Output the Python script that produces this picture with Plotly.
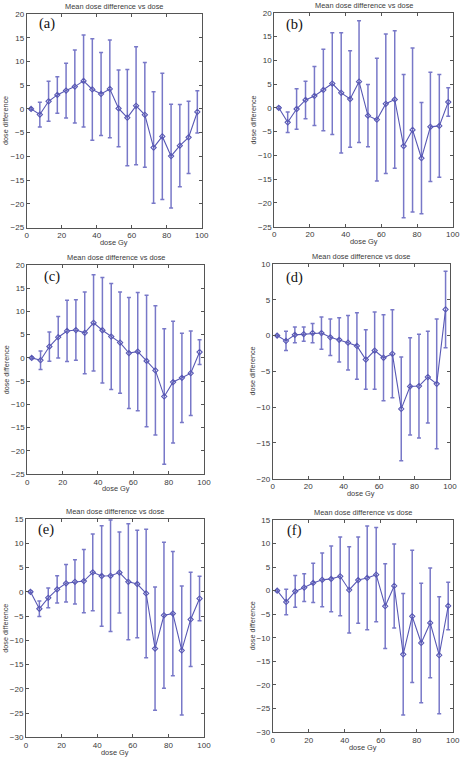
import plotly.graph_objects as go

dose = [2.5, 7.5, 12.5, 17.5, 22.5, 27.5, 32.5, 37.5, 42.5, 47.5,
        52.5, 57.5, 62.5, 67.5, 72.5, 77.5, 82.5, 87.5, 92.5, 97.5]

mean_a = [0, -1.2, 1.6, 2.95, 3.85, 4.7, 5.9, 4.1, 3.15, 4.2,
          0.1, -1.85, 0.65, -1.25, -8.15, -5.8, -9.95, -7.75, -6.0, -0.65]
err_a = [0.2, 2.6, 4.2, 3.85, 5.75, 7.7, 9.7, 10.7, 8.75, 10.3,
         8.1, 10.15, 12.45, 11.05, 11.75, 13.3, 10.95, 8.65, 7.6, 4.45]

mean_b = [0, -3.05, -0.25, 1.65, 2.5, 3.75, 5.1, 3.15, 1.85, 5.5,
          -1.65, -2.5, 0.85, 1.75, -8.05, -4.65, -10.6, -4.0, -3.8, 1.2]
err_b = [0.2, 2.15, 4.25, 3.95, 6.2, 8.55, 10.7, 12.65, 10.15, 12.8,
         6.55, 12.9, 14.65, 14.45, 15.05, 17.25, 11.7, 11.5, 10.8, 3.0]

mean_c = [0, -0.5, 2.45, 4.45, 5.8, 6.0, 5.4, 7.55, 5.95, 4.6,
          3.3, 1.05, 1.35, -0.65, -2.7, -8.3, -5.2, -4.3, -3.3, 1.25]
err_c = [0.2, 2.0, 3.15, 4.45, 6.6, 6.5, 8.8, 10.35, 11.35, 11.4,
         10.9, 11.95, 12.75, 14.15, 13.9, 14.6, 13.1, 9.6, 9.1, 2.65]

mean_d = [0, -0.75, 0.1, 0.2, 0.35, 0.35, -0.25, -0.6, -1.0, -1.45,
          -3.35, -2.1, -3.1, -2.55, -10.25, -7.1, -7.05, -5.8, -6.75, 3.65]
err_d = [0.1, 1.35, 1.1, 1.0, 1.35, 2.25, 2.55, 3.1, 3.8, 4.65,
         4.15, 5.4, 6.0, 6.15, 7.25, 6.8, 7.25, 6.4, 9.05, 5.35]

mean_e = [0, -3.5, -1.25, 0.5, 1.75, 2.05, 2.2, 4.0, 3.25, 3.3,
          3.95, 2.05, 1.6, -0.35, -11.7, -4.85, -4.5, -12.1, -5.7, -1.4]
err_e = [0.2, 1.6, 2.05, 2.8, 3.85, 4.55, 6.5, 7.9, 10.35, 11.5,
         8.35, 11.95, 11.1, 13.25, 12.7, 15.05, 12.8, 13.3, 9.7, 4.6]

mean_f = [0, -2.4, -0.15, 0.65, 1.65, 2.3, 2.5, 3.05, 0.15, 2.25,
          2.7, 3.4, -3.3, 1.0, -13.5, -5.45, -11.1, -6.85, -13.7, -3.25]
err_f = [0.2, 2.7, 3.35, 2.95, 4.15, 5.7, 7.0, 8.35, 9.15, 9.15,
         11.0, 10.0, 9.0, 8.9, 12.9, 14.05, 12.7, 11.65, 12.4, 5.05]

panel_labels = ["(a)", "(b)", "(c)", "(d)", "(e)", "(f)"]
means = [mean_a, mean_b, mean_c, mean_d, mean_e, mean_f]
errs = [err_a, err_b, err_c, err_d, err_e, err_f]
y_ranges = [[-25, 20], [-25, 20], [-25, 20], [-20, 10], [-30, 15], [-30, 15]]
x_ticks = [0, 20, 40, 60, 80, 100]
title_text = "Mean dose difference vs dose"
x_title = "dose Gy"
y_title = "dose difference"

W, H = 461, 760
# plot boxes in pixels: left, right, top, bottom
boxes = [
    (26.7, 201.7, 14.0, 227.5),
    (274.3, 452.7, 12.7, 226.7),
    (27.3, 204.0, 265.0, 474.0),
    (272.7, 450.0, 264.0, 478.7),
    (26.0, 204.0, 519.0, 737.3),
    (272.7, 452.7, 520.0, 732.0),
]
# panel label offsets from box top-left (px): left edge dx, centre dy
label_offsets = [(10, 9.5), (10, 12), (15, 11.5), (11.5, 13.5), (10, 10.5), (12.3, 10)]

line_col = "#5858b4"
err_col = "#7878c8"
axis_col = "#555555"
text_col = "#3a3a3a"

fig = go.Figure()
layout = dict(width=W, height=H, margin=dict(l=0, r=0, t=0, b=0, autoexpand=False),
              paper_bgcolor="white", plot_bgcolor="white", showlegend=False,
              font=dict(family="Liberation Sans, Arial", size=8, color=text_col))
annotations = []
for i in range(6):
    l, r, t, b = boxes[i]
    xa = "xaxis" if i == 0 else f"xaxis{i+1}"
    ya = "yaxis" if i == 0 else f"yaxis{i+1}"
    xr = "x" if i == 0 else f"x{i+1}"
    yr = "y" if i == 0 else f"y{i+1}"
    fig.add_trace(go.Scatter(
        x=dose, y=means[i], xaxis=xr, yaxis=yr, mode="lines+markers",
        line=dict(color=line_col, width=1.1),
        marker=dict(symbol="diamond-open", size=4, color=line_col, line=dict(width=1.1)),
        error_y=dict(type="data", array=errs[i], visible=True, color=err_col,
                     thickness=1.5, width=2),
        cliponaxis=True,
    ))
    yr_lo, yr_hi = y_ranges[i]
    layout[xa] = dict(domain=[l / W, r / W], anchor=yr, range=[0, 100],
                      tickvals=x_ticks, ticks="inside", ticklen=3,
                      tickcolor=axis_col, showline=True, linecolor=axis_col, linewidth=1,
                      mirror="ticks", showgrid=False, zeroline=False, automargin=False,
                      tickfont=dict(size=8, color=text_col))
    layout[ya] = dict(domain=[1 - b / H, 1 - t / H], anchor=xr, range=[yr_lo, yr_hi],
                      tickvals=list(range(yr_lo, yr_hi + 1, 5)), ticks="inside", ticklen=3,
                      tickcolor=axis_col, showline=True, linecolor=axis_col, linewidth=1,
                      mirror="ticks", showgrid=False, zeroline=False, automargin=False,
                      tickfont=dict(size=8, color=text_col))
    annotations.append(dict(text=title_text, xref="paper", yref="paper",
                            x=(l + r) / 2 / W, y=1 - (t - 7.5) / H, xanchor="center",
                            yanchor="middle", showarrow=False,
                            font=dict(size=7.4, color=text_col)))
    annotations.append(dict(text=x_title, xref="paper", yref="paper",
                            x=(l + r) / 2 / W, y=1 - (b + 15) / H, xanchor="center",
                            yanchor="middle", showarrow=False,
                            font=dict(size=7.4, color=text_col)))
    annotations.append(dict(text=y_title, xref="paper", yref="paper",
                            x=(l - 20.5) / W, y=1 - (t + b) / 2 / H, xanchor="center",
                            yanchor="middle", showarrow=False, textangle=-90,
                            font=dict(size=7.2, color=text_col)))
    dx, dy = label_offsets[i]
    annotations.append(dict(text=panel_labels[i], xref="paper", yref="paper",
                            x=(l + dx) / W, y=1 - (t + dy) / H, xanchor="left",
                            yanchor="middle", showarrow=False,
                            font=dict(family="Liberation Serif, Times New Roman", size=14.5,
                                      color="#111111")))
layout["annotations"] = annotations
fig.update_layout(**layout)
fig.write_html(
    "out.html",
    config={"displayModeBar": False},
    post_script="document.body.style.margin='0';document.body.style.overflow='hidden';",
)
